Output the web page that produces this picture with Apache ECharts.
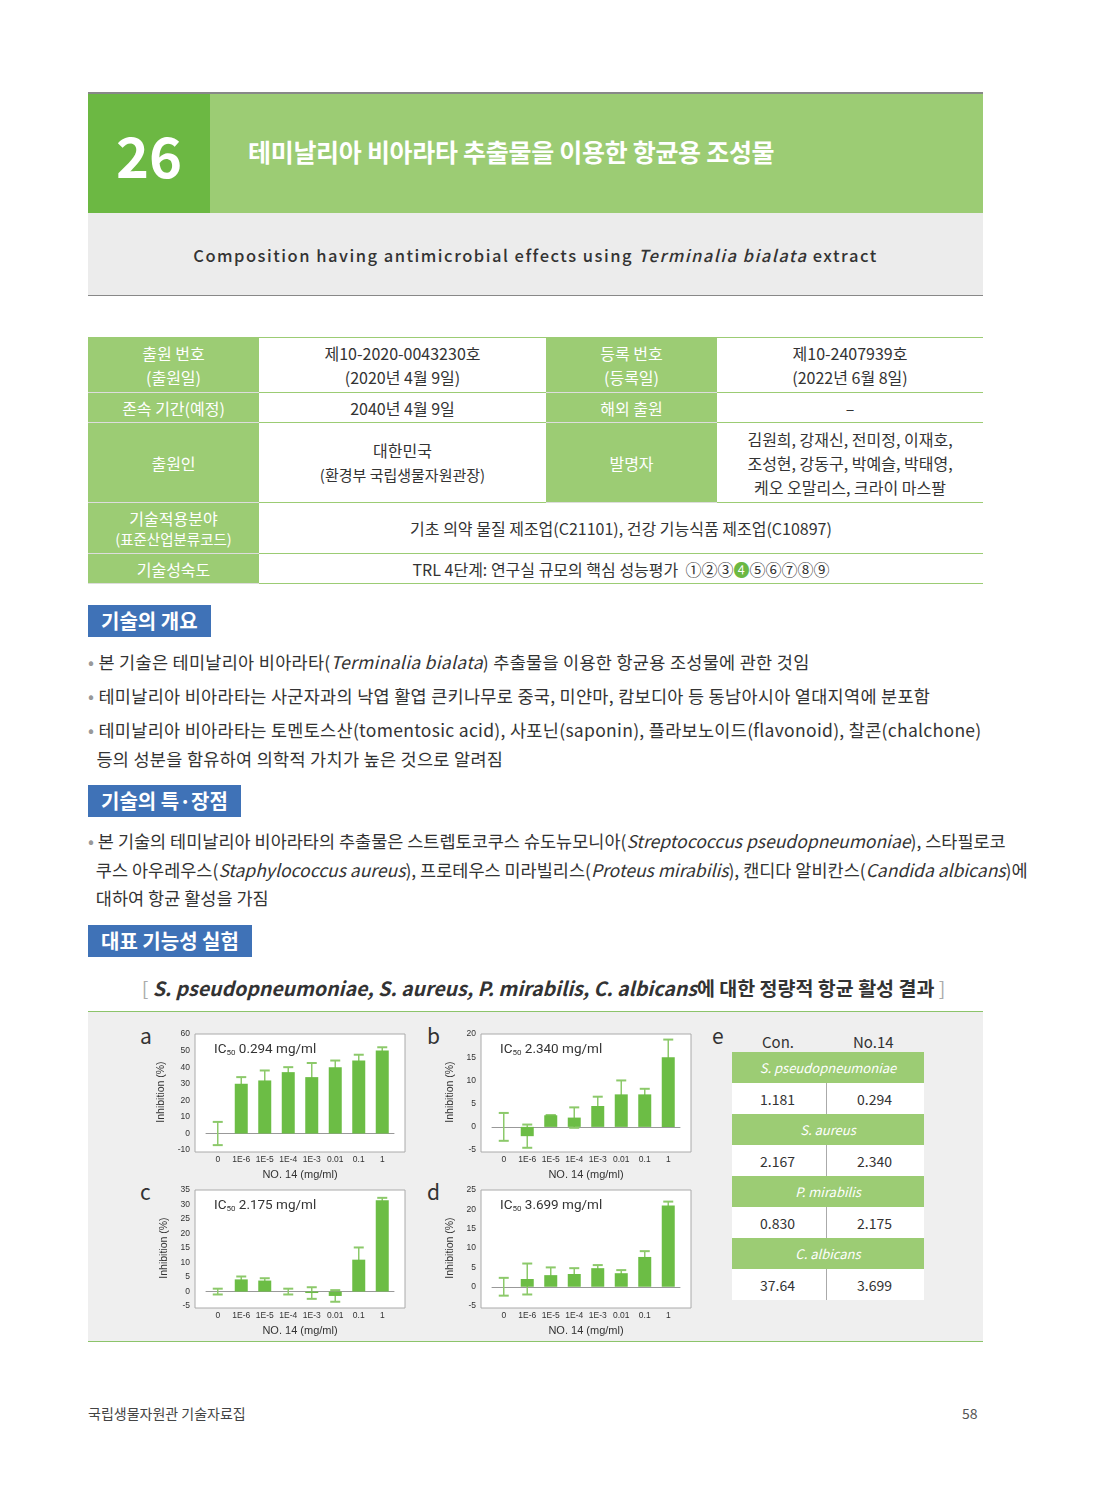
<!DOCTYPE html>
<html><head><meta charset="utf-8">
<script src="https://cdn.jsdelivr.net/npm/echarts@6/dist/echarts.min.js"></script>
<style>
body{margin:0;width:1100px;height:1485px;background:#fff;font-family:"Noto Sans CJK KR","Noto Sans",sans-serif;color:#333;position:relative;overflow:hidden}
.a{position:absolute}
table.t{position:absolute;left:88px;top:337px;width:895px;border-collapse:collapse;font-size:16px;letter-spacing:0px}
table.t td{text-align:center;border-top:1.5px solid #9ccc74;border-bottom:1.5px solid #9ccc74;line-height:24px;padding:0;color:#333}
table.t td.g{background:#9ccc74;color:#fff;border-bottom:1.5px solid #ddd}
.sec{position:absolute;left:88px;background:#3f72b7;color:#fff;font-weight:bold;font-size:20px;height:32px;line-height:31px;padding:0 13px}
.b{position:absolute;left:88px;font-size:17.5px;letter-spacing:0.3px;line-height:28.5px;width:910px;white-space:nowrap}
.b span.d{color:#999}
.lt{position:absolute;font-size:21px;color:#333}
table.e{position:absolute;left:732px;top:1052px;width:192px;border-collapse:collapse;font-size:14px}
table.e td{height:31px;padding:0;color:#333}
table.e td.h{background:#9ccc74;color:#fff;font-style:italic;text-align:center;font-size:13px}
table.e td.v{background:#fff;padding-left:28px}
table.e td.v+td.v{border-left:1px solid #aaa;padding-left:30px}
</style></head><body>
<div class="a" style="left:88px;top:92px;width:895px;height:2px;background:#888"></div>
<div class="a" style="left:88px;top:94px;width:122px;height:119px;background:#6cb843;color:#fff;font-size:56px;font-weight:bold;line-height:119px;text-align:center">26</div>
<div class="a" style="left:210px;top:94px;width:773px;height:119px;background:#9ccc74"></div>
<div class="a" style="left:248px;top:133px;color:#fff;font-size:25px;font-weight:bold;letter-spacing:-0.3px">테미날리아 비아라타 추출물을 이용한 항균용 조성물</div>
<div class="a" style="left:88px;top:213px;width:895px;height:82px;background:#ececec;border-bottom:1.5px solid #888"></div>
<div class="a" style="left:88px;top:243px;width:895px;text-align:center;font-size:16.5px;letter-spacing:1.5px;font-weight:500">Composition having antimicrobial effects using <i>Terminalia bialata</i> extract</div>

<table class="t">
<tr style="height:55px"><td class="g" style="width:171px">출원 번호<br>(출원일)</td><td style="width:287px">제10-2020-0043230호<br>(2020년 4월 9일)</td><td class="g" style="width:171px">등록 번호<br>(등록일)</td><td>제10-2407939호<br>(2022년 6월 8일)</td></tr>
<tr style="height:30px"><td class="g">존속 기간(예정)</td><td>2040년 4월 9일</td><td class="g">해외 출원</td><td>–</td></tr>
<tr style="height:80px"><td class="g">출원인</td><td>대한민국<br><span style="font-size:15px">(환경부 국립생물자원관장)</span></td><td class="g">발명자</td><td>김원희, 강재신, 전미정, 이재호,<br>조성현, 강동구, 박예슬, 박태영,<br>케오 오말리스, 크라이 마스팔</td></tr>
<tr style="height:51px"><td class="g" style="line-height:20px">기술적용분야<br><span style="font-size:14.5px">(표준산업분류코드)</span></td><td colspan="3">기초 의약 물질 제조업(C21101), 건강 기능식품 제조업(C10897)</td></tr>
<tr style="height:30px"><td class="g">기술성숙도</td><td colspan="3">TRL 4단계: 연구실 규모의 핵심 성능평가 &nbsp;①②③<span style="color:#6cb843">❹</span>⑤⑥⑦⑧⑨</td></tr>
</table>

<div class="sec" style="top:605px">기술의 개요</div>
<div class="b" style="top:648px"><span class="d">•</span> 본 기술은 테미날리아 비아라타(<i>Terminalia bialata</i>) 추출물을 이용한 항균용 조성물에 관한 것임</div>
<div class="b" style="top:682px"><span class="d">•</span> 테미날리아 비아라타는 사군자과의 낙엽 활엽 큰키나무로 중국, 미얀마, 캄보디아 등 동남아시아 열대지역에 분포함</div>
<div class="b" style="top:716px"><span class="d">•</span> 테미날리아 비아라타는 토멘토스산(tomentosic acid), 사포닌(saponin), 플라보노이드(flavonoid), 찰콘(chalchone)<br>&nbsp;&nbsp;등의 성분을 함유하여 의학적 가치가 높은 것으로 알려짐</div>
<div class="sec" style="top:785px">기술의 특·장점</div>
<div class="b" style="top:827px;letter-spacing:0px"><span class="d">•</span> 본 기술의 테미날리아 비아라타의 추출물은 스트렙토코쿠스 슈도뉴모니아(<i>Streptococcus pseudopneumoniae</i>), 스타필로코<br>&nbsp;&nbsp;쿠스 아우레우스(<i>Staphylococcus aureus</i>), 프로테우스 미라빌리스(<i>Proteus mirabilis</i>), 캔디다 알비칸스(<i>Candida albicans</i>)에<br>&nbsp;&nbsp;대하여 항균 활성을 가짐</div>
<div class="sec" style="top:925px">대표 기능성 실험</div>
<div class="a" style="left:88px;top:973px;width:911px;text-align:center;font-size:19.5px;font-weight:bold;letter-spacing:0px;color:#333"><span style="color:#aaa;font-weight:normal">[</span> <i>S. pseudopneumoniae, S. aureus, P. mirabilis, C. albicans</i>에 대한 정량적 항균 활성 결과 <span style="color:#aaa;font-weight:normal">]</span></div>

<div class="a" style="left:88px;top:1011px;width:895px;height:329px;background:#efefef;border-top:1.5px solid #8cc46a;border-bottom:1.5px solid #8cc46a"></div>
<div class="lt" style="left:140px;top:1020px">a</div>
<div class="lt" style="left:427px;top:1020px">b</div>
<div class="lt" style="left:140px;top:1176px">c</div>
<div class="lt" style="left:427px;top:1176px">d</div>
<div class="lt" style="left:712px;top:1020px">e</div>
<div id="ca" class="a" style="left:140px;top:1020px;width:280px;height:165px"></div>
<div id="cb" class="a" style="left:426px;top:1020px;width:280px;height:165px"></div>
<div id="cc" class="a" style="left:140px;top:1176px;width:280px;height:165px"></div>
<div id="cd" class="a" style="left:426px;top:1176px;width:280px;height:165px"></div>
<div class="a" style="left:762px;top:1031px;font-size:15px">Con.</div>
<div class="a" style="left:853px;top:1031px;font-size:15px">No.14</div>
<table class="e">
<tr><td class="h" colspan="2">S. pseudopneumoniae</td></tr><tr><td class="v">1.181</td><td class="v">0.294</td></tr>
<tr><td class="h" colspan="2">S. aureus</td></tr><tr><td class="v">2.167</td><td class="v">2.340</td></tr>
<tr><td class="h" colspan="2">P. mirabilis</td></tr><tr><td class="v">0.830</td><td class="v">2.175</td></tr>
<tr><td class="h" colspan="2">C. albicans</td></tr><tr><td class="v">37.64</td><td class="v">3.699</td></tr>
</table>

<div class="a" style="left:88px;top:1403px;font-size:14px;color:#444">국립생물자원관 기술자료집</div>
<div class="a" style="left:962px;top:1403px;font-size:14px;color:#555">58</div>

<script>
const categories = ['0','1E-6','1E-5','1E-4','1E-3','0.01','0.1','1'];
const valuesA = [0, 30, 32, 37, 34, 40, 44, 50];
const errA    = [7, 4, 6, 3, 8.5, 4, 3.5, 2];
const valuesB = [0, -2, 2.5, 2, 4.5, 7, 7, 15];
const errB    = [3, 2.5, 0, 2.2, 2, 3, 1.2, 3.8];
const valuesC = [0, 4.2, 3.8, 0, -0.5, -1.5, 11, 31.5];
const errC    = [1, 1, 0.8, 1, 2, 2, 4.2, 0.8];
const valuesD = [0, 2, 3, 3.3, 4.8, 3.5, 7.7, 21];
const errD    = [2.3, 4, 2, 1.5, 0.8, 0.8, 1.5, 1];
const ic50 = ['0.294', '2.340', '2.175', '3.699'];
const yMin = [-10, -5, -5, -5], yMax = [60, 20, 35, 25], yInt = [10, 5, 5, 5];

function make(id, vals, errs, k){
  const c = echarts.init(document.getElementById(id));
  c.setOption({
    animation:false,
    graphic:[{type:'rect',shape:{x:55,y:14,width:210,height:118},style:{fill:'#fff',stroke:'#aaa',lineWidth:1},z:-1,silent:true}],
    grid:{left:66,top:14,width:188,height:118},
    title:{text:'IC{s|50} '+ic50[k]+' mg/ml',left:69,top:18,textStyle:{fontSize:13.5,fontWeight:'normal',color:'#333',fontFamily:'Roboto',rich:{s:{fontSize:8,verticalAlign:'bottom',padding:[6,0,0,0],color:'#333'}}}},
    xAxis:{type:'category',data:categories,axisTick:{show:false},axisLine:{onZero:true,lineStyle:{color:'#999'}},
      axisLabel:{fontSize:8.5,color:'#333',interval:0,margin:5},position:'bottom',
      name:'NO. 14 (mg/ml)',nameLocation:'middle',nameGap:16,nameTextStyle:{fontSize:11,color:'#333'}},
    yAxis:{type:'value',min:yMin[k],max:yMax[k],interval:yInt[k],splitLine:{show:false},axisLine:{show:false},axisTick:{show:false},
      axisLabel:{fontSize:8.5,color:'#333',margin:16},
      name:'Inhibition (%)',nameLocation:'middle',nameGap:33,nameTextStyle:{fontSize:10.5,color:'#333'}},
    series:[
      {type:'custom',z:1,data:vals.map((v,i)=>[i,v-errs[i],v+errs[i]]),
        renderItem:function(p,api){
          const lo=api.coord([api.value(0),api.value(1)]),hi=api.coord([api.value(0),api.value(2)]);
          const w=5, st={stroke:'#8cc96a',lineWidth:1.5};
          return {type:'group',children:[
            {type:'line',shape:{x1:lo[0],y1:lo[1],x2:hi[0],y2:hi[1]},style:st},
            {type:'line',shape:{x1:lo[0]-w,y1:lo[1],x2:lo[0]+w,y2:lo[1]},style:{stroke:'#8cc96a',lineWidth:2}},
            {type:'line',shape:{x1:hi[0]-w,y1:hi[1],x2:hi[0]+w,y2:hi[1]},style:{stroke:'#8cc96a',lineWidth:2}}]};
        }},
      {type:'bar',z:3,data:vals,barWidth:13,itemStyle:{color:'#6cbd45'}}
    ]
  });
}
make('ca',valuesA,errA,0);
make('cb',valuesB,errB,1);
make('cc',valuesC,errC,2);
make('cd',valuesD,errD,3);
</script>
</body></html>
